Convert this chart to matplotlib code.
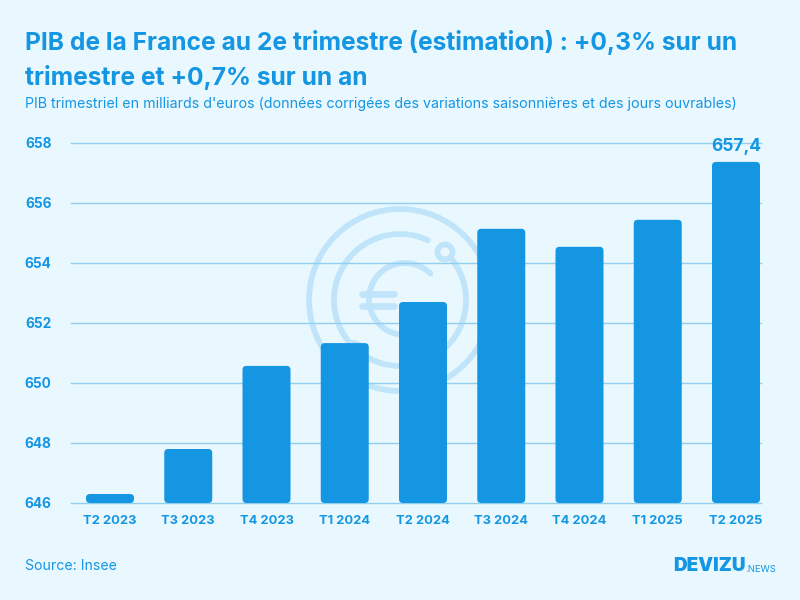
import matplotlib
matplotlib.use("Agg")
import matplotlib.pyplot as plt
from matplotlib.patches import FancyBboxPatch, Circle, Arc

quarters = ["T2 2023", "T3 2023", "T4 2023", "T1 2024", "T2 2024", "T3 2024", "T4 2024", "T1 2025", "T2 2025"]
gdp = [646.3, 647.8, 650.57, 651.33, 652.7, 655.14, 654.54, 655.44, 657.37]
yticks = [646, 648, 650, 652, 654, 656, 658]
title = "PIB de la France au 2e trimestre (estimation) : +0,3% sur un\ntrimestre et +0,7% sur un an"
subtitle = "PIB trimestriel en milliards d'euros (données corrigées des variations saisonnières et des jours ouvrables)"
source = "Source: Insee"
peak_label = "657,4"

BG = "#e9f8ff"
BLUE = "#1496e3"
GRID = "#92cfef"
WM = "#c0e5fa"
FONT = "Inter"
W, H = 800, 600

plt.rcParams["font.family"] = [FONT, "DejaVu Sans"]
fig = plt.figure(figsize=(8, 6), dpi=100, facecolor=BG)

# Watermark layer in pixel coordinates (y axis inverted: angles run clockwise on screen)
bg = fig.add_axes([0, 0, 1, 1], zorder=0)
bg.set_xlim(0, W); bg.set_ylim(H, 0); bg.axis("off")
lw = 4.2
bg.add_patch(Circle((400, 300), 91, fill=False, ec=WM, lw=lw))
bg.add_patch(Arc((400, 300), 132, 132, theta1=-40, theta2=295, ec=WM, lw=lw, capstyle="round"))
bg.add_patch(Arc((405, 299), 72, 72, theta1=90, theta2=315, ec=WM, lw=lw, capstyle="round"))
bg.add_patch(Circle((445, 252), 7.5, fill=False, ec=WM, lw=lw))
bg.add_patch(Circle((353, 352), 9, fill=False, ec=WM, lw=lw))
for yy in (294, 306):
    bg.plot([361.5, 393.5], [yy, yy], color=WM, lw=lw + 0.6, solid_capstyle="round")

# Main chart
ax = fig.add_axes([71 / W, 1 - 503 / H, 690 / W, 360 / H], zorder=1)
ax.patch.set_alpha(0)
ax.set_ylim(646, 658)
positions = list(range(len(quarters)))
px_x = 78.25
ax.set_xlim(-39 / px_x, (761 - 110) / px_x)
ax.set_yticks(yticks)
ax.yaxis.grid(True, color=GRID, lw=1, clip_on=False)
ax.set_axisbelow(True)
for s in ax.spines.values():
    s.set_visible(False)
ax.set_xticks(positions, quarters)
ax.tick_params(length=0)
ax.tick_params(axis="x", pad=9, labelsize=9.3, labelcolor=BLUE)
ax.tick_params(axis="y", pad=14, labelsize=9.8, labelcolor=BLUE)
for lab in ax.get_xticklabels() + ax.get_yticklabels():
    lab.set_fontweight("bold")

bar_w = 48 / px_x
r_x = 4 / px_x
aspect = px_x / 30
for x, v in zip(positions, gdp):
    ax.add_patch(FancyBboxPatch((x - bar_w / 2, 646), bar_w, v - 646,
                                boxstyle=f"round,pad=0,rounding_size={r_x}",
                                mutation_aspect=aspect, fc=BLUE, ec="none", zorder=3))
ax.annotate(peak_label, (positions[-1], gdp[-1]), xytext=(0, 5), textcoords="offset points",
            ha="center", va="bottom", color=BLUE, fontsize=12.5, fontweight="bold", zorder=4)

# Texts
def T(x, y, s, **kw):
    return fig.text(x / W, 1 - y / H, s, color=BLUE, **kw)

T(25, 30, title, fontsize=17.7, fontweight="bold", va="top", linespacing=1.51)
T(25, 104, subtitle, fontsize=10.26, va="center")
T(25, 566, source, fontsize=10.2, va="center")
T(673, 566, "DEVIZU", fontsize=13.6, fontweight="black", va="center")
T(745, 570, ".NEWS", fontsize=6.8, va="center")

fig.savefig("out.png", dpi=100, facecolor=BG)
